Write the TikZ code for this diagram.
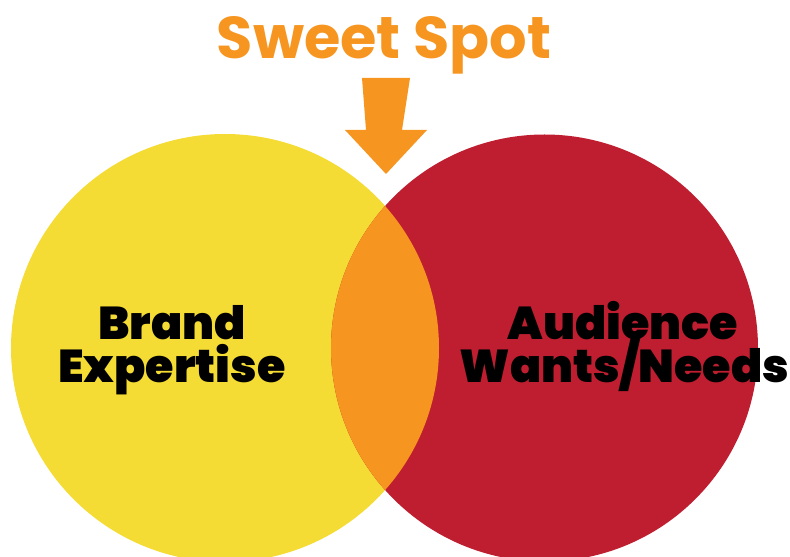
\documentclass[tikz,border=0pt]{standalone}
\usepackage{fontspec}
\setmainfont{Poppins}
\newfontfamily\heavyfont{Poppins Black}
\usepackage{xcolor}
\definecolor{spotyellow}{HTML}{F4DC34}
\definecolor{spotred}{HTML}{BE1E2F}
\definecolor{spotorange}{HTML}{F6951F}
\tikzstyle{title}=[anchor=base, inner sep=0, text=spotorange, font=\bfseries\fontsize{59}{59}\selectfont]
\tikzstyle{label}=[anchor=base, inner sep=0, text=black, font=\heavyfont\fontsize{46}{46}\selectfont]

\begin{document}
\begin{tikzpicture}[x=1pt,y=1pt]
\useasboundingbox (0,0) rectangle (790,557);
\coordinate (cy) at (225,209);
\coordinate (cr) at (544.5,209);
% the two circles and their overlap
\fill[spotyellow] (cy) circle (214);
\fill[spotred] (cr) circle (213.5);
\begin{scope}
\clip (cy) circle (214);
\fill[spotorange] (cr) circle (213.5);
\end{scope}
% arrow pointing down into the overlap
\fill[spotorange] (362,479) -- (410,479) -- (402,427) -- (427,427) -- (386,383)
  -- (345,427) -- (366,427) -- cycle;
\node[title] (sweet) at (384,498) {Sweet Spot};
\node[label] (brand) at (172,217) {Brand};
\node[label] (expertise) at (172,174) {Expertise};
\node[label] (audience) at (623,217) {Audience};
\node[label] (wants) at (624.5,174) {Wants/Needs};
\end{tikzpicture}
\end{document}
